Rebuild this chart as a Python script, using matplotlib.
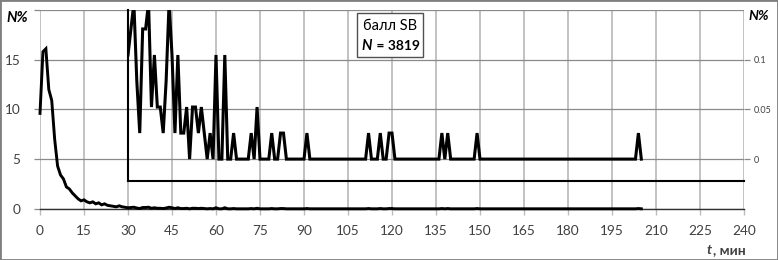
import matplotlib
matplotlib.use('Agg')
import matplotlib.pyplot as plt
from matplotlib.patches import Rectangle

# ---------------- data ----------------
N_total = 3819
# share of cases per minute, t = 0..29 min (percent)
early_minutes = list(range(0, 30))
early_pct = [9.6, 15.8, 16.1, 12.0, 10.9, 7.0, 4.3, 3.4, 3.0, 2.2,
             2.0, 1.6, 1.3, 1.0, 0.8, 0.9, 0.7, 0.6, 0.7, 0.5,
             0.6, 0.4, 0.5, 0.35, 0.3, 0.25, 0.2, 0.3, 0.2, 0.15]
# number of cases per minute, t = 30..205 min
late_minutes = list(range(30, 206))
late_counts = [4, 5, 6, 3, 1, 5, 5, 6, 2, 4,
               2, 2, 1, 3, 6, 4, 1, 4, 1, 1,
               2, 0, 2, 2, 1, 2, 1, 0, 1, 0,
               4, 0, 0, 4, 0, 0, 1, 0, 0, 0,
               0, 0, 1, 0, 2, 0, 0, 0, 0, 1,
               0, 0, 1, 1, 0, 0, 0, 0, 0, 0,
               0, 1, 0, 0, 0, 0, 0, 0, 0, 0,
               0, 0, 0, 0, 0, 0, 0, 0, 0, 0,
               0, 0, 1, 0, 0, 0, 1, 0, 0, 1,
               1, 0, 0, 0, 0, 0, 0, 0, 0, 0,
               0, 0, 0, 0, 0, 0, 0, 1, 0, 1,
               0, 0, 0, 0, 0, 0, 0, 0, 0, 1,
               0, 0, 0, 0, 0, 0, 0, 0, 0, 0,
               0, 0, 0, 0, 0, 0, 0, 0, 0, 0,
               0, 0, 0, 0, 0, 0, 0, 0, 0, 0,
               0, 0, 0, 0, 0, 0, 0, 0, 0, 0,
               0, 0, 0, 0, 0, 0, 0, 0, 0, 0,
               0, 0, 0, 0, 1, 0]
late_pct = [c / N_total * 100 for c in late_counts]

minutes = early_minutes + late_minutes
pct = early_pct + late_pct

x_ticks = list(range(0, 241, 15))
y_ticks = [0, 5, 10, 15, 20]
y_ticklabels = ['0', '5', '10', '15', '']
inset_ticks = [0, 0.05, 0.1]
inset_ticklabels = ['0', '0.05', '0.1']

# ---------------- style ----------------
FONT = ['Lato', 'Noto Sans', 'DejaVu Sans']
plt.rcParams['font.family'] = FONT
TXT = '#404040'
W, H = 778, 260

fig = plt.figure(figsize=(W / 100, H / 100), dpi=100)
fig.patch.set_facecolor('white')

def fx(px):
    return px / W

def fy(py):
    return 1 - py / H

ax_left, ax_right, ax_top, ax_bottom = 40, 744, 10, 208.8
ax = fig.add_axes([fx(ax_left), fy(ax_bottom), fx(ax_right - ax_left), (ax_bottom - ax_top) / H])
ax.set_xlim(0, 240)
ax.set_ylim(0, 20)
ax.set_xticks(x_ticks)
ax.set_xticklabels([str(v) for v in x_ticks])
ax.set_yticks(y_ticks)
ax.set_yticklabels(y_ticklabels)

for s in ['top', 'left', 'right']:
    ax.spines[s].set_visible(False)
ax.spines['bottom'].set_color('#303030')
ax.spines['bottom'].set_linewidth(1.0)

ax.xaxis.grid(True, color='#bdbdbd', linewidth=1.3)
ax.yaxis.grid(True, color='#8a8a8a', linewidth=0.9)
ax.set_axisbelow(True)
ax.tick_params(axis='x', direction='out', length=4, width=1.0, color='#bdbdbd',
               labelsize=9.8, labelcolor=TXT, pad=8)
ax.tick_params(axis='y', direction='out', length=4, width=0.9, color='#8a8a8a',
               labelsize=9.8, labelcolor=TXT, pad=10)

ax.plot(minutes, pct, color='black', linewidth=2.1, clip_on=False, zorder=3,
        solid_joinstyle='miter')

# ---------------- inset ----------------
ins_bottom_main = 2.8
axi = ax.inset_axes([30, ins_bottom_main, 210, 20 - ins_bottom_main], transform=ax.transData)
axi.patch.set_alpha(0)
axi.set_xlim(30, 240)
axi.set_ylim((ins_bottom_main - 5) / 100, 0.15)
axi.set_xticks([])
axi.yaxis.tick_right()
axi.set_yticks(inset_ticks)
axi.set_yticklabels(inset_ticklabels)
axi.tick_params(axis='y', direction='out', length=4, width=0.9, color='#8a8a8a',
                labelsize=6.5, labelcolor=TXT, pad=3)
for s in ['top', 'right']:
    axi.spines[s].set_visible(False)
for s in ['left', 'bottom']:
    axi.spines[s].set_color('black')
    axi.spines[s].set_linewidth(1.5)
axi.plot(late_minutes, late_pct, color='black', linewidth=2.2, zorder=3,
         solid_joinstyle='miter')

# ---------------- texts ----------------
fig.text(fx(17), fy(17.5), 'N%', ha='center', va='center', fontsize=10.5,
         fontweight='bold', fontstyle='italic', color='black')
fig.text(fx(759), fy(16.5), 'N%', ha='center', va='center', fontsize=10,
         fontweight='bold', fontstyle='italic', color='black')

# x-axis label
fig.text(fx(712), fy(250), 't', ha='right', va='center', fontsize=10,
         fontweight='bold', fontstyle='italic', color=TXT)
fig.text(fx(713), fy(250), ', мин', ha='left', va='center', fontsize=10,
         fontweight='bold', color=TXT)

# info box
fig.patches.append(Rectangle((fx(357), fy(57)), fx(66), (57 - 13) / H,
                             transform=fig.transFigure, facecolor='white',
                             edgecolor='#505050', linewidth=1.0, zorder=5))
fig.text(fx(390), fy(26), 'балл SB', ha='center', va='center', fontsize=10.5,
         color='black', zorder=6)
fig.text(fx(372), fy(45.5), 'N', ha='right', va='center', fontsize=10.5,
         fontweight='bold', fontstyle='italic', color='black', zorder=6)
fig.text(fx(373), fy(45.5), ' = 3819', ha='left', va='center', fontsize=10,
         fontweight='bold', color='black', zorder=6)

# figure frame
fig.patches.append(Rectangle((0, 0), 1, 1, transform=fig.transFigure, fill=False,
                             edgecolor='#7f7f7f', linewidth=2.0, zorder=10))

fig.savefig('out.png', dpi=100)
